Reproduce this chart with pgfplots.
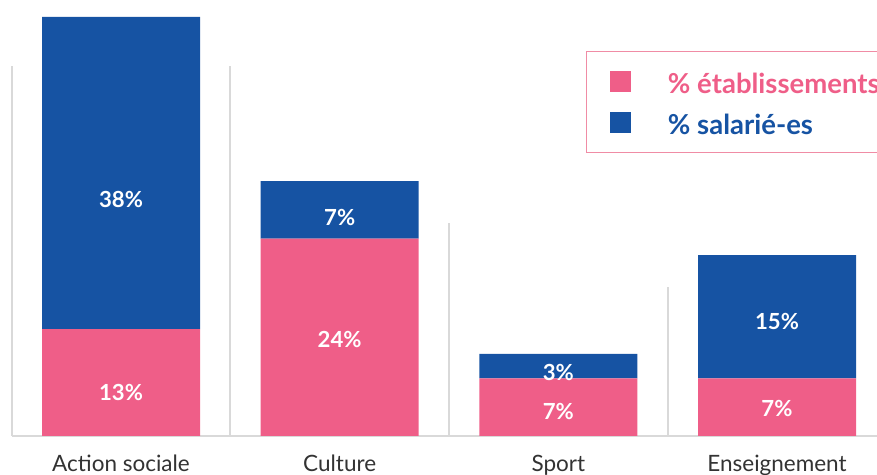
\documentclass[border=0pt]{standalone}
\usepackage{fontspec}
\setmainfont{Lato}
\usepackage{pgfplots}
\pgfplotsset{compat=1.18}

\definecolor{rose}{RGB}{239,94,136}
\definecolor{bleu}{RGB}{22,83,163}
\definecolor{grille}{RGB}{217,217,217}
\definecolor{cadre}{RGB}{240,140,165}
\definecolor{texte}{RGB}{51,51,51}

\tikzset{lbl/.style={anchor=base, text=white, inner sep=0pt,
    font=\fontsize{13.3}{16}\selectfont\bfseries}}

% common frame: 1 px of the reference = 0.6pt
\pgfplotsset{cadre commun/.style={
    scale only axis, width=526.2pt, height=261.6pt,
    xmin=-0.5534, xmax=3.4573, ymin=0, ymax=53.04,
    axis line style={draw=none}, tick style={draw=none},
    ytick=\empty, clip=false,
}}

\begin{document}
\begin{tikzpicture}
% separators and baseline
\begin{axis}[cadre commun, xtick=\empty]
\addplot[ycomb, grille, line width=1.2pt, mark=none]
  coordinates {(-0.5,45.0) (0.5,45.0) (1.5,25.95) (2.5,18.16)};
\addplot[grille, line width=1.2pt, mark=none]
  coordinates {(-0.5,0) (3.4573,0)};
\end{axis}

% stacked bars
\begin{axis}[cadre commun,
    ybar stacked, bar width=94.8pt,
    xtick={0,1,2,3},
    xticklabels={Action sociale,Culture,Sport,Enseignement},
    xticklabel style={anchor=base, yshift=-21.6pt, text=texte,
      font=\fontsize{13.5}{16}\selectfont, inner sep=0pt},
    legend cell align=left,
    legend image code/.code={\fill[#1] (0pt,-6.4pt) rectangle (12.3pt,6.2pt);},
    legend style={at={(0.6678,0.883)}, anchor=north west, draw=cadre,
      line width=0.6pt, fill=white, inner xsep=14.6pt, inner ysep=11pt,
      row sep=10.6pt, column sep=22.2pt,
      nodes={inner sep=0pt, text height=14pt, text depth=0pt},
      font=\fontsize{16.5}{19}\selectfont\bfseries},
]
\addplot[fill=rose, draw=none] coordinates {(0,13) (1,24) (2,7) (3,7)};
\addlegendentry{\textcolor{rose}{\% établissements}}
\addplot[fill=bleu, draw=none] coordinates {(0,38) (1,7) (2,3) (3,15)};
\addlegendentry{\textcolor{bleu}{\% salarié-es}}
\end{axis}

% value labels, on top of the bars
\begin{axis}[cadre commun, xtick=\empty]
\addplot[draw=none, mark=none, nodes near coords, point meta=explicit symbolic,
  every node near coord/.style={lbl}]
  coordinates {
    (0,4.26) [13\%] (0,27.80) [38\%]
    (1,10.71) [24\%] (1,25.61) [7\%]
    (2,1.95) [7\%] (2,6.81) [3\%]
    (3,2.35) [7\%] (3,12.90) [15\%]
  };
\end{axis}

\pgfresetboundingbox
\path[use as bounding box] ([yshift=-23.4pt]current axis.south west)
  rectangle (current axis.north east);
\end{tikzpicture}
\end{document}
